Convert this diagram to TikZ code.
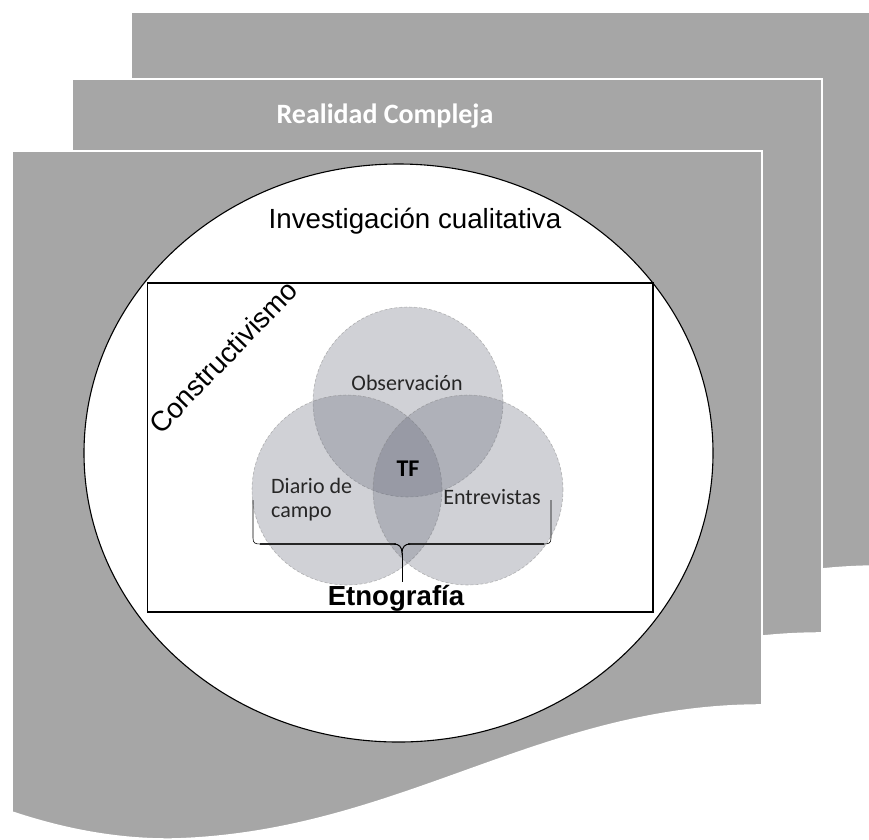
\documentclass[tikz,border=0pt]{standalone}
\usepackage{fontspec}
\setmainfont{Liberation Sans}
\newfontfamily\calibri{Carlito}
\usetikzlibrary{shapes.geometric}
\definecolor{pagegray}{RGB}{166,166,166}
\definecolor{venngray}{RGB}{100,104,120}
\begin{document}
\begin{tikzpicture}[x=1pt,y=-1pt,
  sheet/.style={fill=pagegray,draw=white,line width=1.6pt},
  frame/.style={draw=black,fill=white,line width=1.1pt,inner sep=0pt},
  venn/.style={circle,minimum size=190pt,inner sep=0pt,fill=venngray,fill opacity=.3,draw=gray,draw opacity=.5,line width=.6pt,densely dashed},
  venntext/.style={font=\calibri\fontsize{22}{24}\selectfont,text=black!85,inner sep=0pt},
  bracethin/.style={draw=black,line width=.6pt},
  bracethick/.style={draw=black!85,line width=1.8pt}]
\useasboundingbox (0,0) rectangle (869,839);
\clip (0,0) rectangle (869,839);
\def\sheetpath{(12,151) -- (762,151) -- (762,705) .. controls (540,705) and (400,832) .. (175,839) .. controls (115,840) and (60,828) .. (12,812) -- cycle}
% stacked sheets, back to front
\draw[sheet,shift={(119,-139)}] \sheetpath;
\draw[sheet,shift={(60,-72)}] \sheetpath;
\node[anchor=base,inner sep=0pt] (real) at (385,123) {\calibri\bfseries\fontsize{28}{30}\selectfont\color{white}Realidad Compleja};
\draw[sheet] \sheetpath;
% research frame
\node[frame,ellipse,minimum width=629pt,minimum height=578pt] (inv) at (398.5,453) {};
\node[anchor=base,inner sep=0pt] (invt) at (415,228) {\fontsize{27.7}{30}\selectfont Investigación cualitativa};
\node[frame,rectangle,minimum width=505.5pt,minimum height=329pt] (cons) at (400.25,447.5) {};
\node[rotate=46,inner sep=0pt] (const) at (223,357) {\fontsize{28}{30}\selectfont Constructivismo};
% triangulation circles
\node[venn] (obs) at (408,402) {};
\node[venn] (dia) at (347,490) {};
\node[venn] (ent) at (468,490) {};
\node[venntext] (obst) at (407,383) {Observación};
\node[venntext,align=left,anchor=west] (diat) at (271,500) {Diario de\\campo};
\node[venntext] (entt) at (492,497) {Entrevistas};
\node[venntext,font=\calibri\bfseries\fontsize{24}{26}\selectfont,text=black] (tf) at (408,469) {TF};
% brace over the three tools
\coordinate (bl) at (253,500);
\coordinate (br) at (551,500);
\coordinate (bt) at (402,582);
\draw[bracethin] (bl) -- (253,538) .. controls (253,543) and (255,544) .. (260,544);
\draw[bracethin] (br) -- (551,538) .. controls (551,543) and (549,544) .. (544,544);
\draw[bracethick] (260,544) -- (396,544);
\draw[bracethick] (408,544) -- (544,544);
\draw[bracethin,line width=1pt] (394,544) .. controls (399,544) and (402,547) .. (402,553) .. controls (402,547) and (405,544) .. (410,544);
\draw[bracethin] (402,553) -- (bt);
\node[anchor=base,inner sep=0pt] (etno) at (396,605) {\bfseries\fontsize{27.6}{30}\selectfont Etnografía};
\end{tikzpicture}
\end{document}
